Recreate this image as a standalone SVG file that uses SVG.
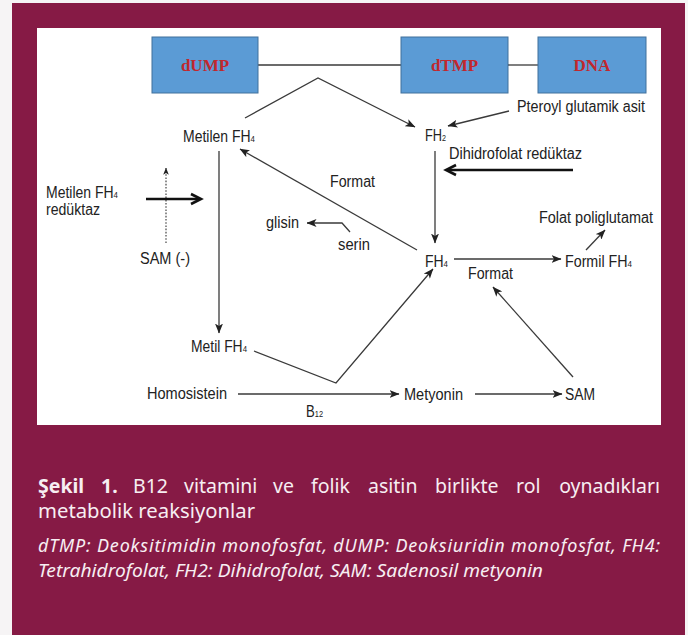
<svg xmlns="http://www.w3.org/2000/svg" width="688" height="635" viewBox="0 0 688 635">
<style>
.lbl{font-family:"Liberation Sans",Arial,sans-serif;font-size:16px;fill:#222;}
.sub{font-size:9px;}
.box{fill:#5b9bd5;stroke:#41719c;stroke-width:1;}
.boxt{font-family:"Liberation Serif","Times New Roman",serif;font-weight:bold;font-size:17px;fill:#c1272d;text-anchor:middle;}
.ln{fill:none;stroke:#3a3a3a;stroke-width:1.3;}
.thick{fill:none;stroke:#111;stroke-width:2.6;}
.cap{font-family:"Noto Sans","Open Sans",sans-serif;font-size:18px;fill:#f7eef2;}
.cap1{font-size:19.5px;}
</style>
<defs>
<marker id="ah" viewBox="0 0 10 8" refX="9.5" refY="4" markerWidth="10" markerHeight="8" markerUnits="userSpaceOnUse" orient="auto">
<path d="M0,0 L10,4 L0,8 L2.5,4 z" fill="#222"/>
</marker>
<marker id="ahs" viewBox="0 0 10 8" refX="9.5" refY="4" markerWidth="7" markerHeight="6" markerUnits="userSpaceOnUse" orient="auto">
<path d="M0,0 L10,4 L0,8 L2.5,4 z" fill="#222"/>
</marker>
</defs>
<rect x="0" y="0" width="688" height="635" fill="#f6f4f5"/>
<rect x="12" y="3" width="673" height="632" fill="#861a45"/>
<rect x="37" y="28" width="624" height="397" fill="#ffffff"/>

<g id="connectors">
<line class="ln" x1="257" y1="65" x2="401" y2="65"/>
<line class="ln" x1="508" y1="65" x2="538" y2="65"/>
<polyline class="ln" points="245,118 318,78 415,127" marker-end="url(#ah)"/>
<line class="ln" x1="509" y1="111" x2="448" y2="126" marker-end="url(#ah)"/>
<line class="ln" x1="435" y1="151" x2="435" y2="243" marker-end="url(#ah)"/>
<line class="ln" x1="417" y1="250" x2="240" y2="149" marker-end="url(#ah)"/>
<line class="ln" x1="219" y1="151" x2="219" y2="333" marker-end="url(#ah)"/>
<polyline class="ln" points="350,232 342,223 307,223" marker-end="url(#ah)"/>
<line class="ln" x1="454" y1="259" x2="561" y2="259" marker-end="url(#ah)"/>
<line class="ln" x1="586" y1="250" x2="605" y2="230" marker-end="url(#ah)"/>
<polyline class="ln" points="254,351 336,383 433,269" marker-end="url(#ah)"/>
<line class="ln" x1="238" y1="394" x2="399" y2="394" marker-end="url(#ah)"/>
<line class="ln" x1="475" y1="394" x2="562" y2="394" marker-end="url(#ah)"/>
<line class="ln" x1="573" y1="377" x2="493" y2="287" marker-end="url(#ah)"/>
<line x1="166" y1="243" x2="166" y2="168" stroke="#444" stroke-width="1.2" stroke-dasharray="1.6,1.6" marker-end="url(#ahs)"/>
<line class="thick" x1="146" y1="199" x2="199" y2="199"/>
<polyline class="thick" points="191,194 201,199 191,204"/>
<line class="thick" x1="573" y1="170" x2="448" y2="170"/>
<polyline class="thick" points="456,165 446,170 456,175"/>
</g>

<g id="dUMP"><rect class="box" x="152" y="37" width="106" height="56"/><text class="boxt" x="205" y="71">dUMP</text></g>
<g id="dTMP"><rect class="box" x="401" y="37" width="107" height="56"/><text class="boxt" x="454.5" y="71">dTMP</text></g>
<g id="DNA"><rect class="box" x="538" y="37" width="108" height="56"/><text class="boxt" x="592" y="71">DNA</text></g>

<g id="metilenFH4"><text class="lbl" x="183" y="142" textLength="72" lengthAdjust="spacingAndGlyphs">Metilen FH<tspan class="sub">4</tspan></text></g>
<g id="FH2"><text class="lbl" x="425" y="141" textLength="21" lengthAdjust="spacingAndGlyphs">FH<tspan class="sub">2</tspan></text></g>
<g id="pteroyl"><text class="lbl" x="517" y="112" textLength="128" lengthAdjust="spacingAndGlyphs">Pteroyl glutamik asit</text></g>
<g id="dhfr"><text class="lbl" x="449" y="159" textLength="133" lengthAdjust="spacingAndGlyphs">Dihidrofolat redüktaz</text></g>
<g id="mthfr"><text class="lbl" x="46" y="198" textLength="72" lengthAdjust="spacingAndGlyphs">Metilen FH<tspan class="sub">4</tspan></text><text class="lbl" x="46" y="215" textLength="54" lengthAdjust="spacingAndGlyphs">redüktaz</text></g>
<g id="samNeg"><text class="lbl" x="140" y="264" textLength="50" lengthAdjust="spacingAndGlyphs">SAM (-)</text></g>
<g id="format1"><text class="lbl" x="330" y="187" textLength="45" lengthAdjust="spacingAndGlyphs">Format</text></g>
<g id="glisin"><text class="lbl" x="266" y="228" textLength="33" lengthAdjust="spacingAndGlyphs">glisin</text></g>
<g id="serin"><text class="lbl" x="338" y="250" textLength="32" lengthAdjust="spacingAndGlyphs">serin</text></g>
<g id="folatPoli"><text class="lbl" x="539" y="223" textLength="114" lengthAdjust="spacingAndGlyphs">Folat poliglutamat</text></g>
<g id="FH4"><text class="lbl" x="425" y="267" textLength="23" lengthAdjust="spacingAndGlyphs">FH<tspan class="sub">4</tspan></text></g>
<g id="formilFH4"><text class="lbl" x="565" y="267" textLength="67" lengthAdjust="spacingAndGlyphs">Formil FH<tspan class="sub">4</tspan></text></g>
<g id="format2"><text class="lbl" x="468" y="279" textLength="45" lengthAdjust="spacingAndGlyphs">Format</text></g>
<g id="metilFH4"><text class="lbl" x="191" y="352" textLength="56" lengthAdjust="spacingAndGlyphs">Metil FH<tspan class="sub">4</tspan></text></g>
<g id="homosistein"><text class="lbl" x="147" y="399" textLength="80" lengthAdjust="spacingAndGlyphs">Homosistein</text></g>
<g id="B12"><text class="lbl" x="306" y="417" textLength="17" lengthAdjust="spacingAndGlyphs">B<tspan class="sub">12</tspan></text></g>
<g id="metyonin"><text class="lbl" x="404" y="400" textLength="59" lengthAdjust="spacingAndGlyphs">Metyonin</text></g>
<g id="SAM"><text class="lbl" x="565" y="400" textLength="30" lengthAdjust="spacingAndGlyphs">SAM</text></g>

<g id="caption">
<text class="cap cap1" y="493"><tspan x="38" font-weight="bold">Şekil</tspan><tspan x="101" font-weight="bold">1.</tspan><tspan x="133">B12</tspan><tspan x="184">vitamini</tspan><tspan x="273">ve</tspan><tspan x="311">folik</tspan><tspan x="368">asitin</tspan><tspan x="435">birlikte</tspan><tspan x="516">rol</tspan></text>
<text class="cap cap1" x="660" y="493" text-anchor="end">oynadıkları</text>
<text class="cap cap1" x="38" y="518" textLength="217" lengthAdjust="spacingAndGlyphs">metabolik reaksiyonlar</text>
<text class="cap" x="38" y="552" font-style="italic" textLength="622" lengthAdjust="spacing">dTMP: Deoksitimidin monofosfat, dUMP: Deoksiuridin monofosfat, FH4:</text>
<text class="cap" x="38" y="577" font-style="italic" textLength="505" lengthAdjust="spacingAndGlyphs">Tetrahidrofolat, FH2: Dihidrofolat, SAM: Sadenosil metyonin</text>
</g>
</svg>
